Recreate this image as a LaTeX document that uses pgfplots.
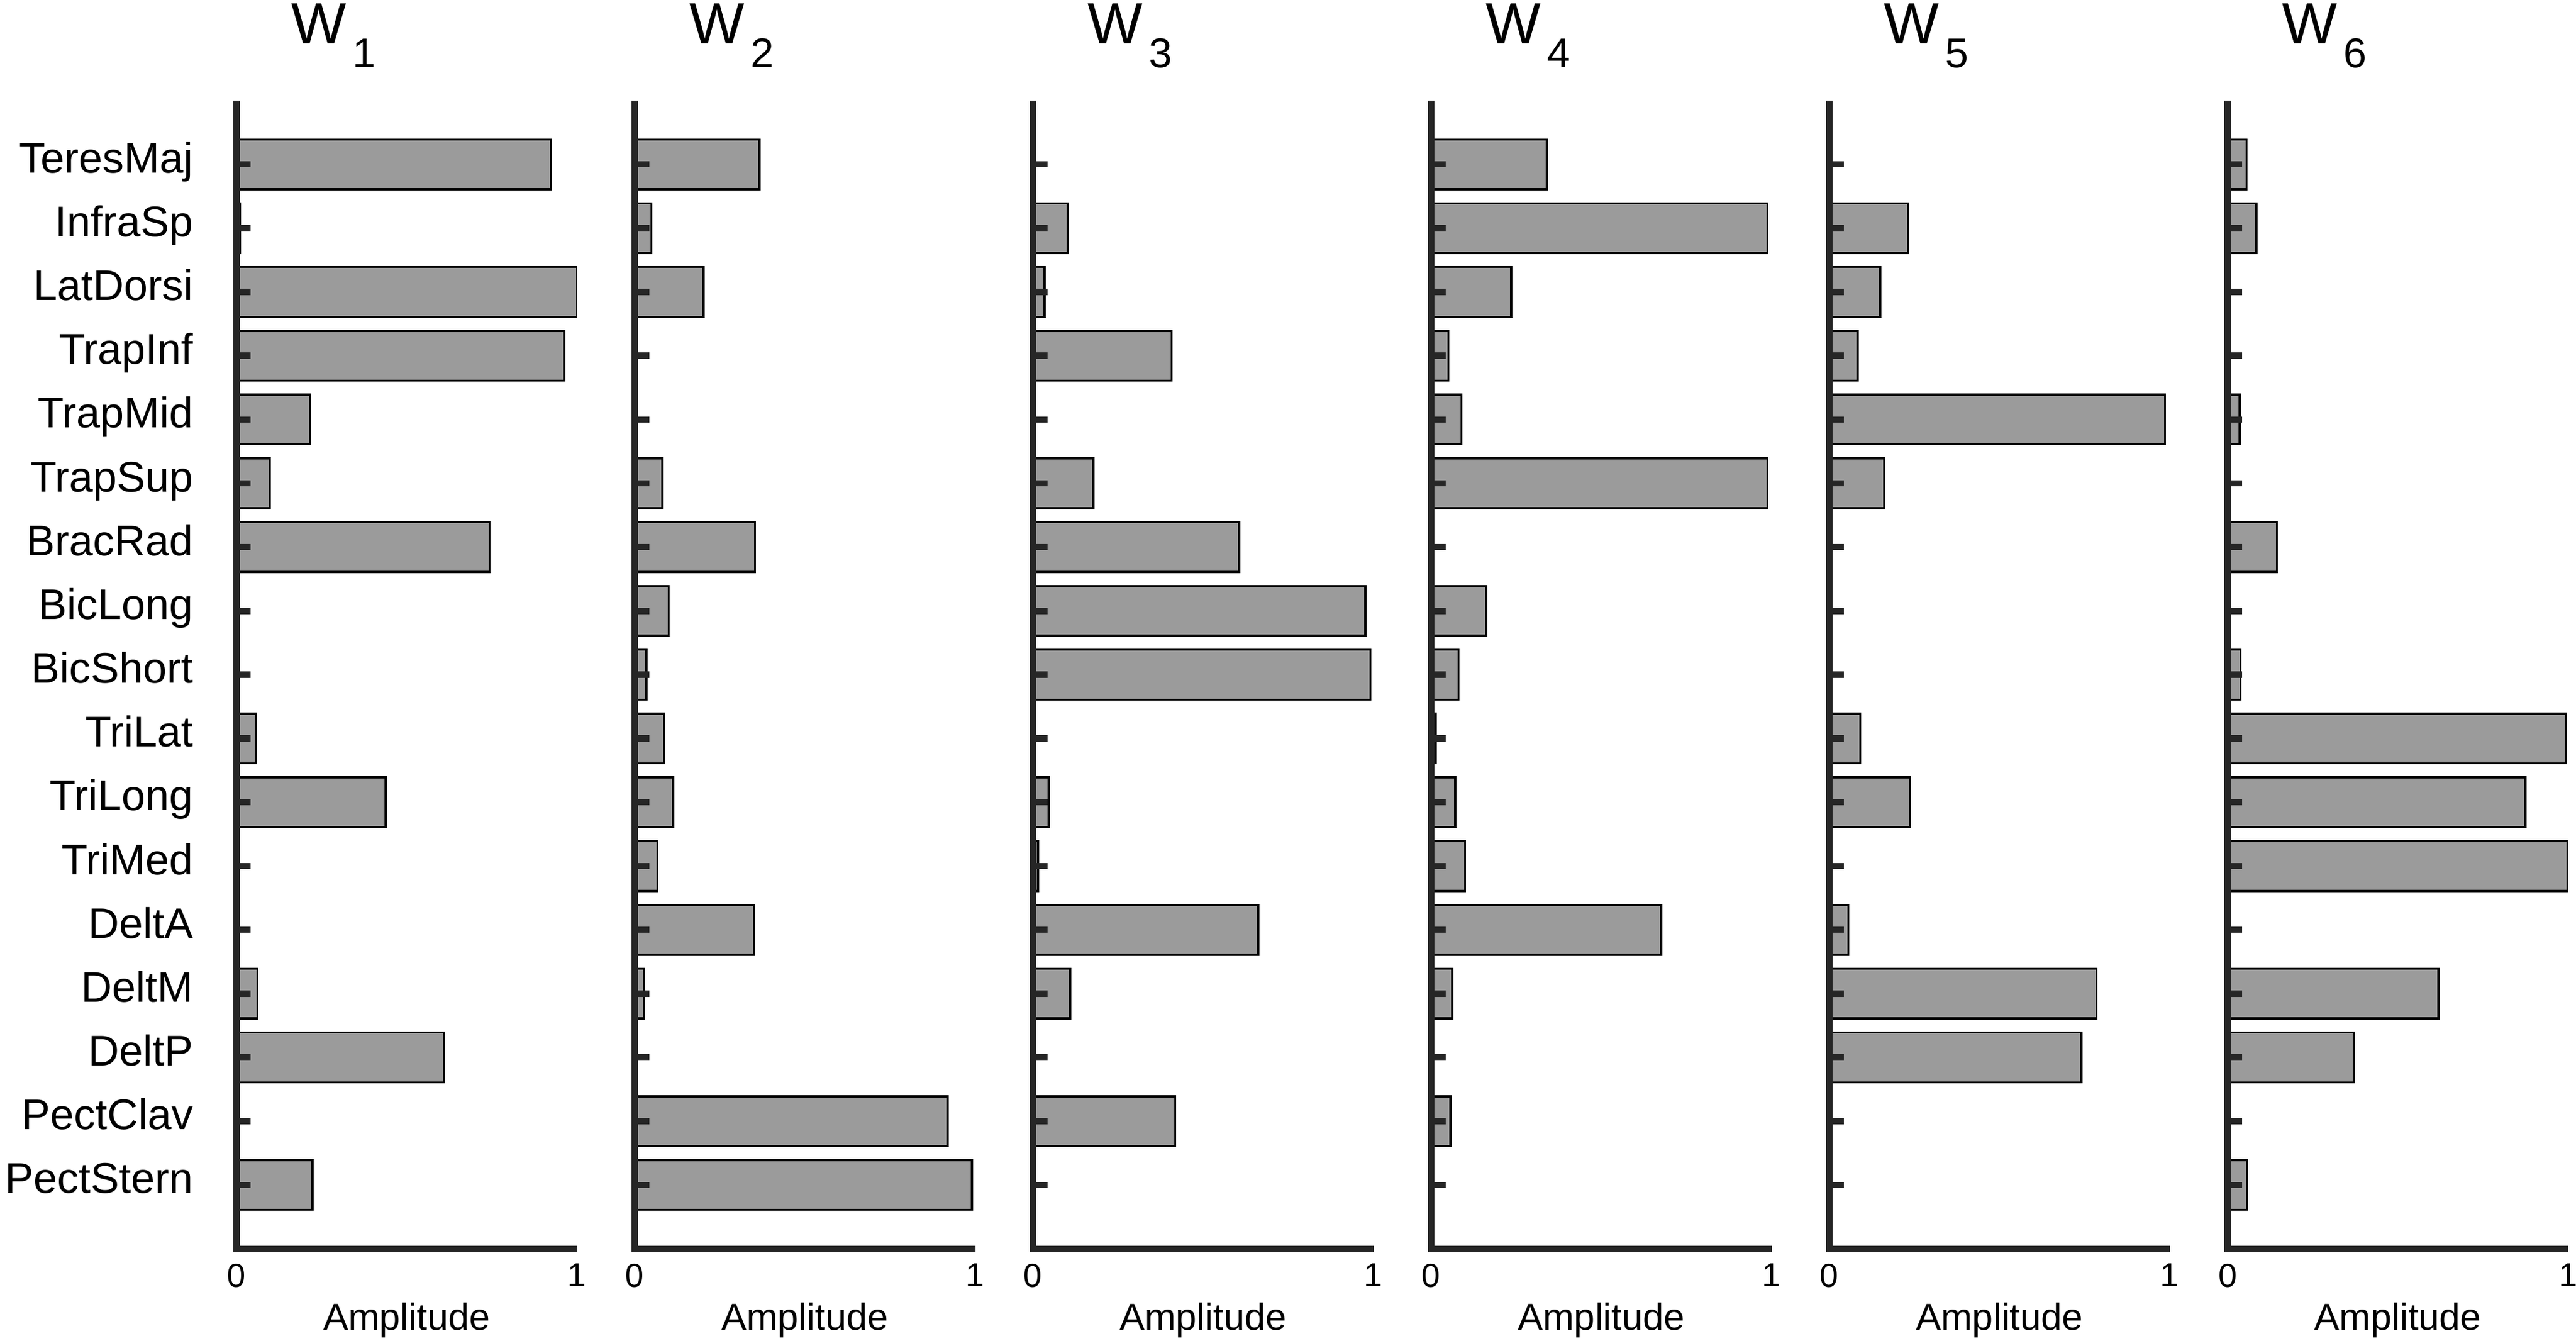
\documentclass[border=0pt]{standalone}
\usepackage{pgfplots}
\usepackage{pgfplotstable}
\pgfplotsset{compat=1.18}
\usepackage{fontspec}
\setmainfont{Liberation Sans}
\definecolor{barfill}{RGB}{155,155,155}
\definecolor{axcol}{RGB}{38,38,38}

% y: 17 = TeresMaj ... 1 = PectStern
\pgfplotstableread{
y  w1    w2    w3    w4    w5    w6
17 0.923 0.366 0.000 0.340 0.000 0.056
16 0.010 0.049 0.102 0.988 0.231 0.085
15 1.000 0.202 0.034 0.235 0.149 0.000
14 0.962 0.000 0.407 0.051 0.083 0.000
13 0.215 0.000 0.000 0.089 0.986 0.036
12 0.098 0.081 0.177 0.988 0.161 0.000
11 0.743 0.353 0.606 0.000 0.000 0.145
10 0.000 0.100 0.976 0.162 0.000 0.000
9  0.000 0.034 0.991 0.080 0.000 0.038
8  0.058 0.086 0.000 0.013 0.091 0.994
7  0.438 0.113 0.046 0.071 0.237 0.875
6  0.000 0.066 0.015 0.100 0.000 0.998
5  0.000 0.350 0.662 0.676 0.056 0.000
4  0.061 0.027 0.109 0.062 0.785 0.620
3  0.609 0.000 0.000 0.000 0.740 0.372
2  0.000 0.919 0.418 0.057 0.000 0.000
1  0.223 0.990 0.000 0.000 0.000 0.058
}\data

\newcommand{\wtitle}[1]{\fontsize{9.8}{11}\selectfont W\kern1pt\raisebox{-4.0pt}{\fontsize{7}{8}\selectfont #1}}

\pgfplotsset{
 panel/.style={
  anchor=south west, width=57.2pt, height=192.9pt, scale only axis,
  xmin=0, xmax=1, ymin=0, ymax=18,
  axis line style={draw=none},
  axis on top,
  xtick={0,1}, xticklabels={0,1},
  xtick pos=bottom, ytick pos=left,
  x tick style={draw=none},
  ytick={1,...,17},
  y tick style={line width=1.05pt, draw=axcol, xshift=2.4pt},
  tick align=inside, major tick length=2.4pt,
  /pgf/number format/assume math mode=true,
  xticklabel style={font=\fontsize{5.6}{6}\selectfont, inner sep=0pt, anchor=north, yshift=-2.3pt},
  xlabel={Amplitude},
  xlabel style={font=\fontsize{6.3}{7}\selectfont, at={(axis description cs:0.5,0)}, anchor=north, inner sep=0pt, yshift=-8.9pt},
  every axis title/.style={at={(axis description cs:0,1)}, anchor=base west, inner sep=0pt, xshift=9pt, yshift=9.6pt},
  yticklabels={},
  xbar, bar width=0.78,
  extra description/.code={
    \draw[line width=1.1pt, draw=axcol] (0,1) -- (0,0) -- (1,0);
  },
 },
 bars/.style={fill=barfill, draw=black, line width=0.35pt},
}

\begin{document}
\begin{tikzpicture}
\begin{axis}[panel, at={(0pt,0pt)}, title={\wtitle{1}},
  yticklabels={PectStern,PectClav,DeltP,DeltM,DeltA,TriMed,TriLong,TriLat,BicShort,BicLong,BracRad,TrapSup,TrapMid,TrapInf,LatDorsi,InfraSp,TeresMaj},
  yticklabel style={font=\fontsize{7.2}{8}\selectfont, inner sep=0pt, anchor=base east, xshift=-4.7pt, yshift=-1.4pt}]
\addplot[bars] table[x=w1, y=y] {\data};
\end{axis}
\begin{axis}[panel, at={(66.9pt,0pt)}, title={\wtitle{2}}]
\addplot[bars] table[x=w2, y=y] {\data};
\end{axis}
\begin{axis}[panel, at={(133.8pt,0pt)}, title={\wtitle{3}}]
\addplot[bars] table[x=w3, y=y] {\data};
\end{axis}
\begin{axis}[panel, at={(200.7pt,0pt)}, title={\wtitle{4}}]
\addplot[bars] table[x=w4, y=y] {\data};
\end{axis}
\begin{axis}[panel, at={(267.6pt,0pt)}, title={\wtitle{5}}]
\addplot[bars] table[x=w5, y=y] {\data};
\end{axis}
\begin{axis}[panel, at={(334.5pt,0pt)}, title={\wtitle{6}}]
\addplot[bars] table[x=w6, y=y] {\data};
\end{axis}
\pgfresetboundingbox
\path[use as bounding box] (-39.75pt,-15.4pt) rectangle (393.05pt,209.8pt);
\end{tikzpicture}
\end{document}
